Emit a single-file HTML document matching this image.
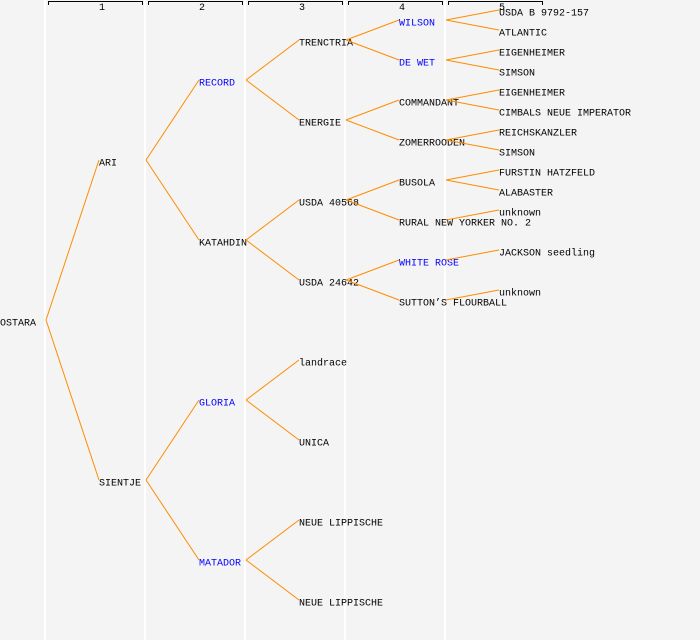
<!DOCTYPE html>
<html><head><style>
html,body{margin:0;padding:0;background:#f4f4f4;}
svg{display:block;}
text{font-family:"Liberation Mono","DejaVu Sans Mono",monospace;font-size:10px;}
</style></head><body>
<svg width="700" height="640" xmlns="http://www.w3.org/2000/svg">
<rect width="700" height="640" fill="#f4f4f4"/>
<g stroke="#ffffff" stroke-width="2">
<line x1="45" y1="0" x2="45" y2="640"/><line x1="145" y1="0" x2="145" y2="640"/>
<line x1="245" y1="0" x2="245" y2="640"/><line x1="345" y1="0" x2="345" y2="640"/>
<line x1="445" y1="0" x2="445" y2="640"/>
</g>
<g stroke="#000" stroke-width="1" fill="none">
<path d="M48.5,5 V1.5 H142.5 V5"/><path d="M148.5,5 V1.5 H242.5 V5"/><path d="M248.5,5 V1.5 H342.5 V5"/><path d="M348.5,5 V1.5 H442.5 V5"/><path d="M448.5,5 V1.5 H542.5 V5"/>
</g>
<g text-anchor="middle" style="font-size:8px">
<text x="102" y="10">1</text><text x="202" y="10">2</text><text x="302" y="10">3</text><text x="402" y="10">4</text><text x="502" y="10">5</text>
</g>
<g dominant-baseline="central" transform="translate(0,2)">
<text x="0" y="322">OSTARA</text>
<text x="99" y="162">ARI</text><text x="99" y="482">SIENTJE</text>
<text x="199" y="82" fill="#0000ff">RECORD</text><text x="199" y="242">KATAHDIN</text>
<text x="199" y="402" fill="#0000ff">GLORIA</text><text x="199" y="562" fill="#0000ff">MATADOR</text>
<text x="299" y="42">TRENCTRIA</text><text x="299" y="122">ENERGIE</text>
<text x="299" y="202">USDA 40568</text><text x="299" y="282">USDA 24642</text>
<text x="299" y="362">landrace</text><text x="299" y="442">UNICA</text>
<text x="299" y="522">NEUE LIPPISCHE</text><text x="299" y="602">NEUE LIPPISCHE</text>
<text x="399" y="22" fill="#0000ff">WILSON</text><text x="399" y="62" fill="#0000ff">DE WET</text>
<text x="399" y="102">COMMANDANT</text><text x="399" y="142">ZOMERROODEN</text>
<text x="399" y="182">BUSOLA</text><text x="399" y="222">RURAL NEW YORKER NO. 2</text>
<text x="399" y="262" fill="#0000ff">WHITE ROSE</text><text x="399" y="302">SUTTON’S FLOURBALL</text>
<text x="499" y="12">USDA B 9792-157</text><text x="499" y="32">ATLANTIC</text>
<text x="499" y="52">EIGENHEIMER</text><text x="499" y="72">SIMSON</text>
<text x="499" y="92">EIGENHEIMER</text><text x="499" y="112">CIMBALS NEUE IMPERATOR</text>
<text x="499" y="132">REICHSKANZLER</text><text x="499" y="152">SIMSON</text>
<text x="499" y="172">FURSTIN HATZFELD</text><text x="499" y="192">ALABASTER</text>
<text x="499" y="212">unknown</text>
<text x="499" y="252">JACKSON seedling</text>
<text x="499" y="292">unknown</text>
</g>
<g stroke="#ff8c00" stroke-width="1" fill="none">
<path d="M46,320 L99,160 M46,320 L99,480"/>
<path d="M146,160 L199,80 M146,160 L199,240 M146,480 L199,400 M146,480 L199,560"/>
<path d="M246,80 L299,40 M246,80 L299,120 M246,240 L299,200 M246,240 L299,280 M246,400 L299,360 M246,400 L299,440 M246,560 L299,520 M246,560 L299,600"/>
<path d="M346,40 L399,20 M346,40 L399,60 M346,120 L399,100 M346,120 L399,140 M346,200 L399,180 M346,200 L399,220 M346,280 L399,260 M346,280 L399,300"/>
<path d="M446,20 L499,10 M446,20 L499,30 M446,60 L499,50 M446,60 L499,70 M446,100 L499,90 M446,100 L499,110 M446,140 L499,130 M446,140 L499,150 M446,180 L499,170 M446,180 L499,190 M446,220 L499,210 M446,260 L499,250 M446,300 L499,290"/>
</g>
</svg>
</body></html>
